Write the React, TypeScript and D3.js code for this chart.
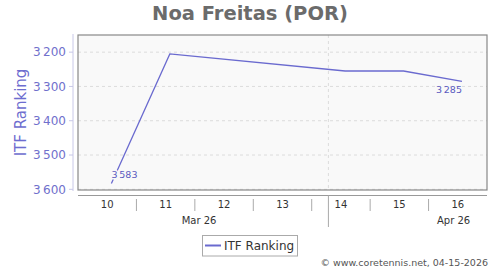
import React from "react";
import * as d3 from "d3";

const title = "Noa Freitas (POR)";
const seriesName = "ITF Ranking";
const dates = ["2026-03-06", "2026-03-13", "2026-04-03", "2026-04-10", "2026-04-17"];
const ranks = [3583, 3205, 3255, 3255, 3285];
const yTicks = [3200, 3300, 3400, 3500, 3600];
const weekNumbers = [10, 11, 12, 13, 14, 15, 16];
const monthLabels = ["Mar 26", "Apr 26"];
const credit = "© www.coretennis.net, 04-15-2026";

const W = 500, H = 270;
const M = { left: 78, right: 487, top: 35, bottom: 190 };
const FONT = "DejaVu Sans, sans-serif";
const LINE = "#6a6acf";

const parse = d3.utcParse("%Y-%m-%d");
const x = d3.scaleUtc()
  .domain([parse("2026-03-02")!, parse("2026-04-20")!])
  .range([M.left, M.right]);
const y = d3.scaleLinear().domain([3150, 3602]).range([M.top, M.bottom]);
const fmt = (v: number) => d3.format(",")(v).replace(",", "\u2009");

export default function App() {
  const pts = dates.map((d, i) => [x(parse(d)!), y(ranks[i])] as [number, number]);
  const line = d3.line()(pts) || "";
  const weekStarts = weekNumbers.map((_, i) => d3.utcDay.offset(parse("2026-03-02")!, i * 7));
  const monthStart = [parse("2026-03-01")!, parse("2026-04-01")!];
  const monthMid = [
    new Date(Date.UTC(2026, 2, 16, 12)),
    new Date(Date.UTC(2026, 3, 16)),
  ];
  const aprX = x(monthStart[1]);
  const first = pts[0];
  const last = pts[pts.length - 1];
  return (
    <svg width={W} height={H} style={{ position: "absolute", left: 0, top: 0, background: "#fff" }} fontFamily={FONT}>
      <text x={250} y={20} textAnchor="middle" fontSize={19.5} fontWeight="bold" fill="#6b6b6b">{title}</text>
      <rect x={M.left} y={M.top} width={M.right - M.left} height={M.bottom - M.top} fill="#f9f9f9" />
      {yTicks.map((t) => (
        <line key={t} x1={M.left} x2={M.right} y1={y(t)} y2={y(t)} stroke="#dcdcdc" strokeDasharray="3,3" strokeWidth={1} />
      ))}
      <line x1={aprX} x2={aprX} y1={M.top} y2={M.bottom} stroke="#dcdcdc" strokeDasharray="3,3" />
      <rect x={M.left} y={M.top} width={M.right - M.left} height={M.bottom - M.top} fill="none" stroke="#888" strokeWidth={1.2} />
      {/* y axis */}
      <line x1={73} x2={73} y1={M.top - 1} y2={M.bottom + 1} stroke="#c8c8e8" />
      {yTicks.map((t) => (
        <g key={t}>
          <line x1={69} x2={73} y1={y(t)} y2={y(t)} stroke="#c8c8e8" />
          <text x={66} y={y(t)} dy="0.35em" textAnchor="end" fontSize={12} fill="#7070cc">{fmt(t)}</text>
        </g>
      ))}
      <text transform={`translate(21,${(M.top + M.bottom) / 2}) rotate(-90)`} textAnchor="middle" dy="0.35em" fontSize={15} fill="#6d6dcf">{seriesName}</text>
      {/* series */}
      <path d={line} fill="none" stroke={LINE} strokeWidth={1.3} />
      <text x={first[0]} y={first[1] - 5} fontSize={9.5} fill="#5a5ac0" stroke="#f9f9f9" strokeWidth={3} paintOrder="stroke">{fmt(ranks[0])}</text>
      <text x={last[0]} y={last[1] + 12} textAnchor="end" fontSize={9.5} fill="#5a5ac0">{fmt(ranks[ranks.length - 1])}</text>
      {/* x axis */}
      <line x1={M.left} x2={M.right} y1={195.5} y2={195.5} stroke="#999" />
      {weekStarts.map((d, i) => (
        <g key={i}>
          {i > 0 && <line x1={x(d)} x2={x(d)} y1={199} y2={211} stroke="#aaa" />}
          <text x={x(d3.utcHour.offset(d, 84))} y={208} textAnchor="middle" fontSize={10} fill="#333">{weekNumbers[i]}</text>
        </g>
      ))}
      <line x1={aprX} x2={aprX} y1={195.5} y2={227} stroke="#aaa" />
      {monthMid.map((d, i) => (
        <text key={i} x={x(d)} y={224} textAnchor="middle" fontSize={10} fill="#333">{monthLabels[i]}</text>
      ))}
      {/* legend */}
      <rect x={202.5} y={235.5} width={95} height={20.5} fill="#fff" stroke="#aaa" />
      <line x1={205} x2={221} y1={245.5} y2={245.5} stroke={LINE} strokeWidth={2} />
      <text x={224} y={245.5} dy="0.35em" fontSize={12} fill="#333">{seriesName}</text>
      <text x={488} y={266} textAnchor="end" fontSize={9.5} fill="#555">{credit}</text>
    </svg>
  );
}
